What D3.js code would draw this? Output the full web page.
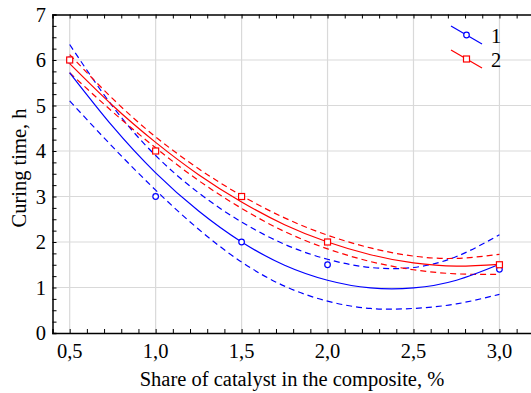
<!DOCTYPE html>
<html>
<head>
<meta charset="utf-8">
<script src="https://cdn.jsdelivr.net/npm/d3@7"></script>
<style>
body { margin: 0; background: #fff; }
svg { display: block; font-family: "Liberation Serif", "Times New Roman", serif; }
</style>
</head>
<body>
<svg></svg>
<script>
// measured points
var share = [0.5, 1.0, 1.5, 2.0, 3.0];
var time1 = [6, 3, 2, 1.5, 1.4];
var time2 = [6, 4, 3, 2, 1.5];

// fitted curves + confidence bands
var fitX = [0.5, 0.75, 1.0, 1.25, 1.5, 1.75, 2.0, 2.25, 2.5, 2.75, 3.0];
var fit1 = [5.72, 4.54, 3.52, 2.68, 2.00, 1.49, 1.16, 0.99, 0.99, 1.16, 1.51];
var up1  = [6.34, 4.98, 3.90, 3.08, 2.44, 1.95, 1.62, 1.44, 1.44, 1.68, 2.16];
var lo1  = [5.10, 4.09, 3.14, 2.28, 1.56, 1.03, 0.70, 0.54, 0.54, 0.64, 0.85];
var fit2 = [5.92, 5.00, 4.19, 3.48, 2.88, 2.38, 2.00, 1.72, 1.54, 1.47, 1.51];
var up2  = [6.12, 5.15, 4.31, 3.61, 3.02, 2.53, 2.15, 1.87, 1.69, 1.64, 1.73];
var lo2  = [5.72, 4.86, 4.07, 3.35, 2.74, 2.23, 1.85, 1.57, 1.39, 1.30, 1.29];

var xTicks = [0.5, 1.0, 1.5, 2.0, 2.5, 3.0];
var yTicks = [0, 1, 2, 3, 4, 5, 6, 7];

var W = 531, H = 393;
var svg = d3.select('svg').attr('width', W).attr('height', H);

var x = d3.scaleLinear().domain([0.4, 3.2]).range([52.5, 52.5 + 2.8 * 171.9]);
var y = d3.scaleLinear().domain([0, 7]).range([333, 14.5]);

var fmt = function(d) { return d3.format('.1f')(d).replace('.', ','); };

// grid
svg.append('g').selectAll('line').data(xTicks).enter().append('line')
  .attr('x1', function(d) { return x(d); }).attr('x2', function(d) { return x(d); })
  .attr('y1', y(7)).attr('y2', y(0))
  .attr('stroke', '#d9d9d9').attr('stroke-width', 1.2);
svg.append('g').selectAll('line').data(yTicks.slice(1, 7)).enter().append('line')
  .attr('y1', function(d) { return y(d); }).attr('y2', function(d) { return y(d); })
  .attr('x1', x(0.4)).attr('x2', W)
  .attr('stroke', '#d9d9d9').attr('stroke-width', 1.2);

// axes
var minorX = d3.range(5, 32).map(function(d) { return d / 10; });
var minorY = d3.range(0, 29).map(function(d) { return d / 4; });

svg.append('g').attr('transform', 'translate(0,' + y(0) + ')')
  .call(d3.axisBottom(x).tickValues(minorX).tickSize(-4).tickFormat(''))
  .call(function(g) { g.select('.domain').attr('stroke-width', 1.5); });
svg.append('g').attr('transform', 'translate(0,' + y(7) + ')')
  .call(d3.axisTop(x).tickValues(minorX).tickSize(-4).tickFormat(''))
  .call(function(g) { g.select('.domain').attr('stroke-width', 1.5); });
svg.append('g').attr('transform', 'translate(' + x(0.4) + ',0)')
  .call(d3.axisLeft(y).tickValues(minorY).tickSize(-4).tickFormat(''))
  .call(function(g) { g.select('.domain').attr('stroke-width', 1.5); });

svg.selectAll('.domain').attr('stroke', '#000');

// tick labels
svg.append('g').selectAll('text').data(xTicks).enter().append('text')
  .attr('x', function(d) { return x(d); }).attr('y', 358)
  .attr('text-anchor', 'middle').attr('font-size', 20.5)
  .text(fmt);
svg.append('g').selectAll('text').data(yTicks).enter().append('text')
  .attr('x', 46).attr('y', function(d) { return y(d) + 7; })
  .attr('text-anchor', 'end').attr('font-size', 20.5)
  .text(function(d) { return d; });

svg.append('text').attr('x', 292).attr('y', 386)
  .attr('text-anchor', 'middle').attr('font-size', 20.5)
  .text('Share of catalyst in the composite, %');
svg.append('text').attr('transform', 'translate(26,168) rotate(-90)')
  .attr('text-anchor', 'middle').attr('font-size', 20.5)
  .text('Curing time, h');

// curves
var line = d3.line()
  .x(function(d, i) { return x(fitX[i]); })
  .y(function(d) { return y(d); })
  .curve(d3.curveNatural);

var plot = svg.append('g');
[[up1, 'blue'], [lo1, 'blue'], [up2, 'red'], [lo2, 'red']].forEach(function(s) {
  plot.append('path').attr('d', line(s[0])).attr('fill', 'none')
    .attr('stroke', s[1]).attr('stroke-width', 1.2).attr('stroke-dasharray', '6,4');
});
plot.append('path').attr('d', line(fit1)).attr('fill', 'none').attr('stroke', 'blue').attr('stroke-width', 1.2);
plot.append('path').attr('d', line(fit2)).attr('fill', 'none').attr('stroke', 'red').attr('stroke-width', 1.2);

// markers
plot.selectAll('circle').data(time1).enter().append('circle')
  .attr('cx', function(d, i) { return x(share[i]); })
  .attr('cy', function(d) { return y(d); })
  .attr('r', 2.8).attr('fill', '#fff').attr('stroke', 'blue').attr('stroke-width', 1.2);
plot.selectAll('rect').data(time2).enter().append('rect')
  .attr('x', function(d, i) { return x(share[i]) - 3; })
  .attr('y', function(d) { return y(d) - 3; })
  .attr('width', 6).attr('height', 6)
  .attr('fill', '#fff').attr('stroke', 'red').attr('stroke-width', 1.2);

// legend
var leg = svg.append('g');
leg.append('line').attr('x1', 451).attr('y1', 26).attr('x2', 482).attr('y2', 44)
  .attr('stroke', 'blue').attr('stroke-width', 1.2);
leg.append('circle').attr('cx', 466.5).attr('cy', 35).attr('r', 2.8)
  .attr('fill', '#fff').attr('stroke', 'blue').attr('stroke-width', 1.2);
leg.append('text').attr('x', 491).attr('y', 43).attr('font-size', 20.5).text('1');
leg.append('line').attr('x1', 451).attr('y1', 50).attr('x2', 482).attr('y2', 68)
  .attr('stroke', 'red').attr('stroke-width', 1.2);
leg.append('rect').attr('x', 463.5).attr('y', 56).attr('width', 6).attr('height', 6)
  .attr('fill', '#fff').attr('stroke', 'red').attr('stroke-width', 1.2);
leg.append('text').attr('x', 491).attr('y', 67).attr('font-size', 20.5).text('2');
</script>
</body>
</html>
